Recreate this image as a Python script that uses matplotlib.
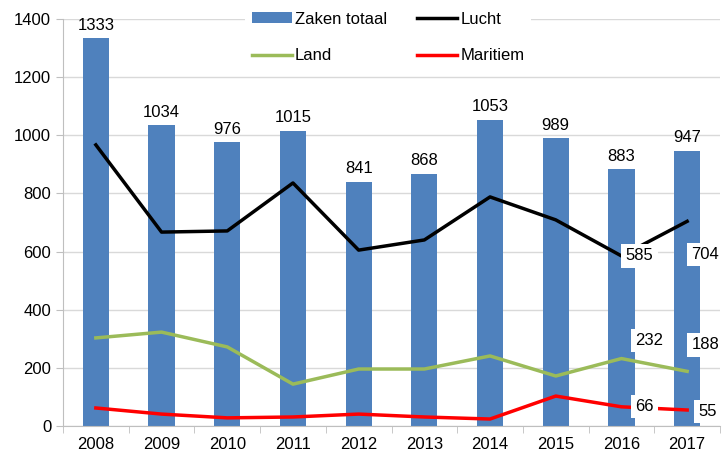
import numpy as np
import matplotlib.pyplot as plt

plt.rcParams['font.family'] = ['Liberation Sans', 'DejaVu Sans']

years = ['2008', '2009', '2010', '2011', '2012', '2013', '2014', '2015', '2016', '2017']
zaken_totaal = [1333, 1034, 976, 1015, 841, 868, 1053, 989, 883, 947]
lucht = [967, 667, 671, 836, 605, 640, 788, 709, 585, 704]
land = [303, 323, 272, 144, 196, 196, 241, 172, 232, 188]
maritiem = [62, 41, 28, 31, 41, 31, 24, 103, 66, 55]

x = np.arange(len(years))

fig = plt.figure(figsize=(7.22, 4.59), dpi=100)
ax = fig.add_axes([63 / 722, 33 / 459, 657 / 722, 407 / 459])

b = ax.bar(x, zaken_totaal, width=0.4, color='#4f81bd', label='Zaken totaal', zorder=2)
l1, = ax.plot(x, lucht, color='black', lw=2.5, label='Lucht', zorder=3)
l2, = ax.plot(x, land, color='#9bbb59', lw=2.5, label='Land', zorder=3)
l3, = ax.plot(x, maritiem, color='#ff0000', lw=2.5, label='Maritiem', zorder=3)

for xi, v in zip(x, zaken_totaal):
    ax.annotate(str(v), (xi, v), xytext=(0, 4), textcoords='offset points',
                ha='center', va='bottom', fontsize=12)

# labels for the last two years, boxed in white
box = dict(facecolor='white', edgecolor='none', pad=3)
offsets = {
    'lucht': [(3, 0), (3, -24)],
    'land': [(10, 13), (3, 19)],
    'maritiem': [(10, 0), (8, -1)],
}
for name, vals in [('lucht', lucht), ('land', land), ('maritiem', maritiem)]:
    for k, i in enumerate([8, 9]):
        ax.annotate(str(vals[i]), (x[i], vals[i]), xytext=offsets[name][k],
                    textcoords='offset points', ha='left', va='center',
                    fontsize=12, bbox=box, zorder=5)

ax.set_xlim(-0.5, len(years) - 0.5)
ax.set_ylim(0, 1400)
ax.set_yticks(range(0, 1401, 200))
ax.set_xticks(x)
ax.set_xticklabels(years)
ax.set_xticks(np.arange(-0.5, len(years), 1), minor=True)
ax.tick_params(axis='x', which='major', length=0, labelsize=12, pad=8)
ax.tick_params(axis='x', which='minor', length=5, color='#bfbfbf')
ax.tick_params(axis='y', length=5, color='#bfbfbf', labelsize=12)
ax.yaxis.grid(True, color='#d9d9d9', lw=1, zorder=0)
ax.set_axisbelow(True)
for s in ['top', 'right']:
    ax.spines[s].set_visible(False)
for s in ['left', 'bottom']:
    ax.spines[s].set_color('#bfbfbf')

leg = ax.legend([b, l2, l1, l3], ['Zaken totaal', 'Land', 'Lucht', 'Maritiem'],
                loc='upper center', bbox_to_anchor=(0.495, 1.055), ncol=2,
                frameon=True, fontsize=12, handlelength=2.4, columnspacing=1.8,
                labelspacing=1.3, handletextpad=0.2, handleheight=0.6)
leg.get_frame().set_edgecolor('none')
leg.get_frame().set_facecolor('white')
leg.get_frame().set_alpha(1)

fig.savefig('out.png', dpi=100)
